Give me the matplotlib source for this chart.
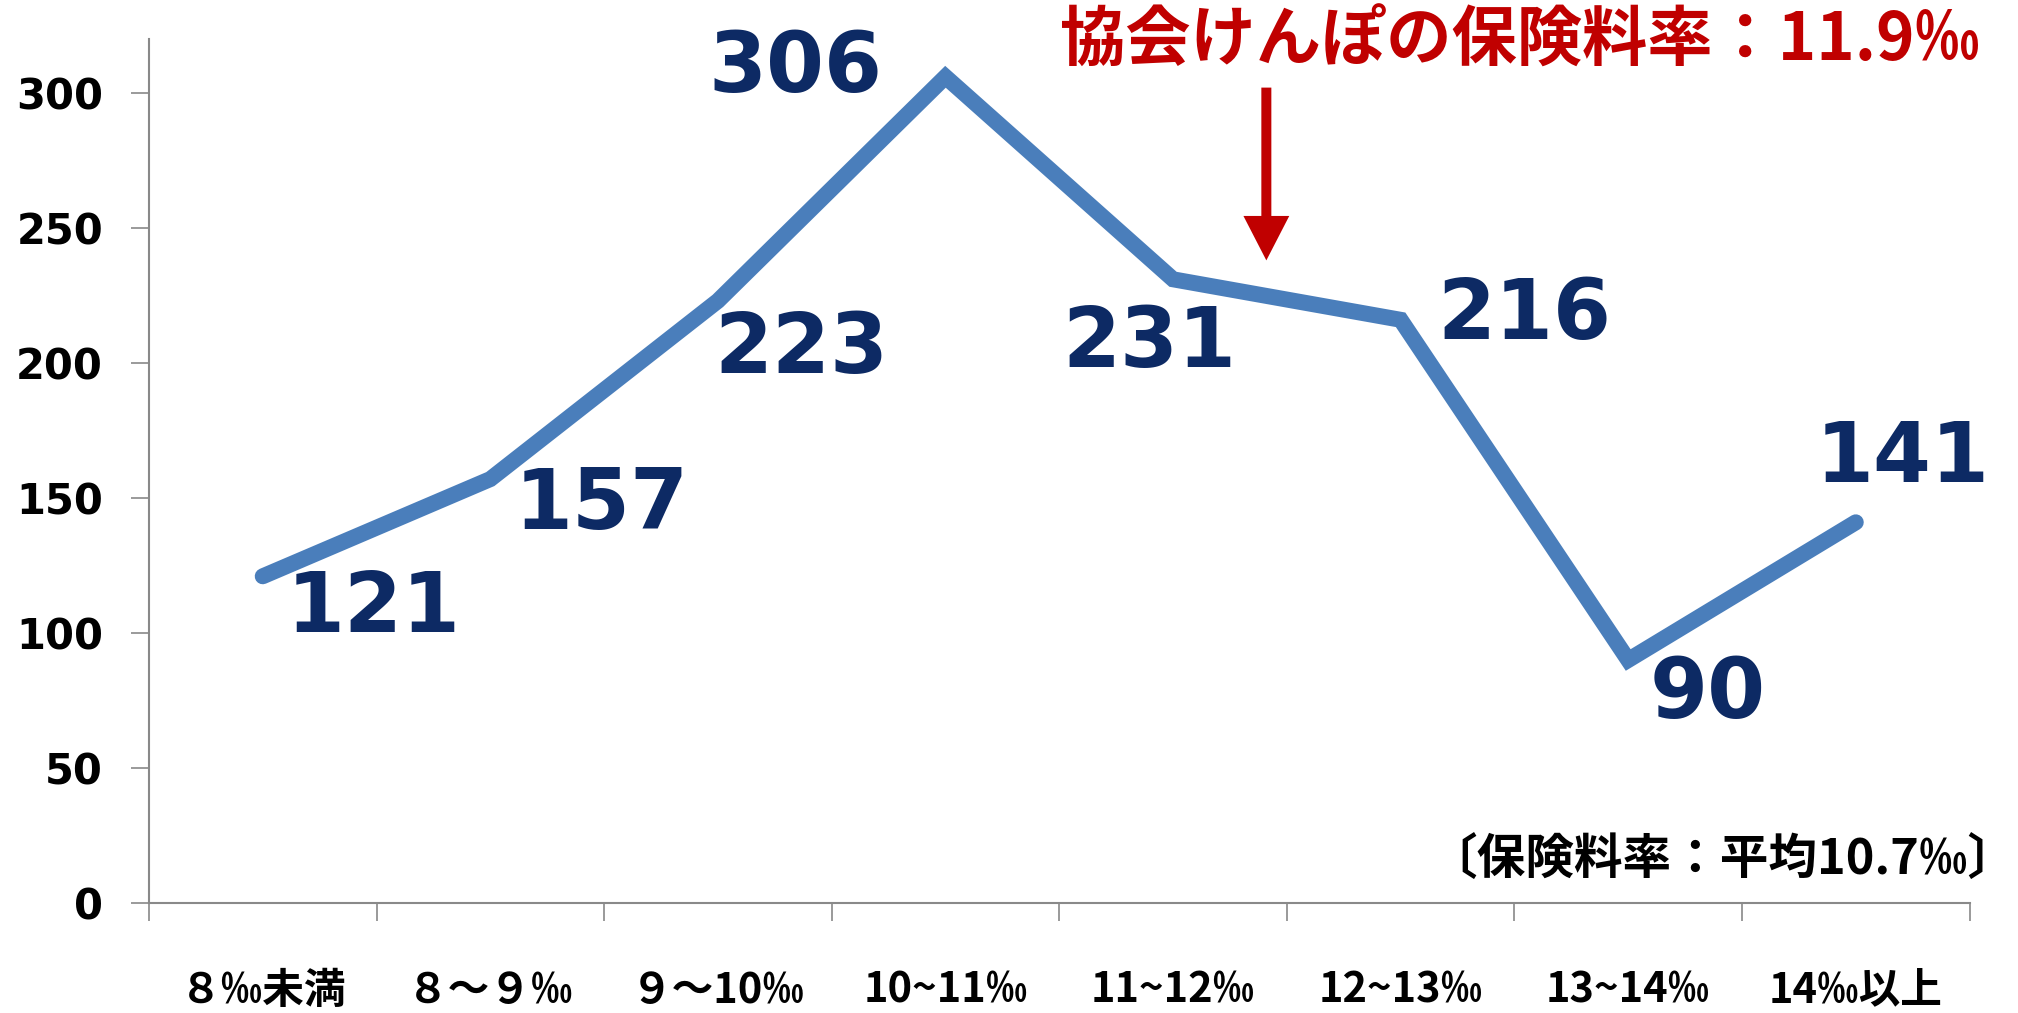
import numpy as np
import matplotlib.pyplot as plt

# categories (insurance rate bands) and number of unions
categories = ["８‰未満", "８～９‰", "９～10‰", "10~11‰", "11~12‰", "12~13‰", "13~14‰", "14‰以上"]
counts = [121, 157, 223, 306, 231, 216, 90, 141]
# label offsets in points (dx, dy) from each point
label_offsets = [(80, -23), (80, -19), (60, -35), (-108, 6), (-17, -46), (89, 3), (57, -25), (34, 46)]

yticks = [0, 50, 100, 150, 200, 250, 300]

plt.rcParams['font.family'] = ['DejaVu Sans']
jp = ['Noto Sans CJK JP', 'DejaVu Sans']

fig = plt.figure(figsize=(20.18, 10.13), dpi=100)
ax = fig.add_axes([0.0738, 0.1086, 0.9022, 0.8529])

x = np.arange(len(categories))
ax.plot(x, counts, color='#4A7EBB', lw=11.5, solid_capstyle='round', solid_joinstyle='miter')

for xi, v, (dx, dy) in zip(x, counts, label_offsets):
    ax.annotate(str(v), (xi, v), xytext=(dx, dy), textcoords='offset points',
                ha='center', va='center', fontsize=60, fontweight='bold', color='#0D2A64')

ax.set_xlim(-0.5, len(categories) - 0.5)
ax.set_ylim(0, 320)

ax.set_yticks(yticks)
ax.set_yticklabels([str(t) for t in yticks], fontsize=30, fontweight='bold')
ax.tick_params(axis='y', length=13, width=1.2, color='#898989', pad=20, direction='out')

ax.set_xticks(x)
ax.set_xticklabels(categories, family=jp, fontsize=30, fontweight='bold')
ax.set_xticks(np.arange(-0.5, len(categories), 1), minor=True)
ax.tick_params(axis='x', which='major', length=0, pad=48)
ax.tick_params(axis='x', which='minor', length=13, width=1.2, color='#898989', direction='out')

for s in ['top', 'right']:
    ax.spines[s].set_visible(False)
for s in ['left', 'bottom']:
    ax.spines[s].set_color('#898989')
    ax.spines[s].set_linewidth(1.5)

# note on Kyokai Kenpo rate
fig.text(1520 / 2018, 1 - 41 / 1013, "協会けんぽの保険料率：11.9‰", ha='center', va='center',
         family=jp, fontsize=47, fontweight='bold', color='#C00000')
ax.annotate("", xy=(4.41, 238), xytext=(4.41, 302),
            arrowprops=dict(arrowstyle='simple,head_width=1.65,head_length=1.6,tail_width=0.36',
                            mutation_scale=20, color='#C00000', lw=0, shrinkA=0, shrinkB=0))

ax.text(1.026, 0.05, "〔保険料率：平均10.7‰〕", transform=ax.transAxes, ha='right', va='center',
        family=jp, fontsize=35, fontweight='bold', color='black')

fig.savefig('out.png', dpi=100)
